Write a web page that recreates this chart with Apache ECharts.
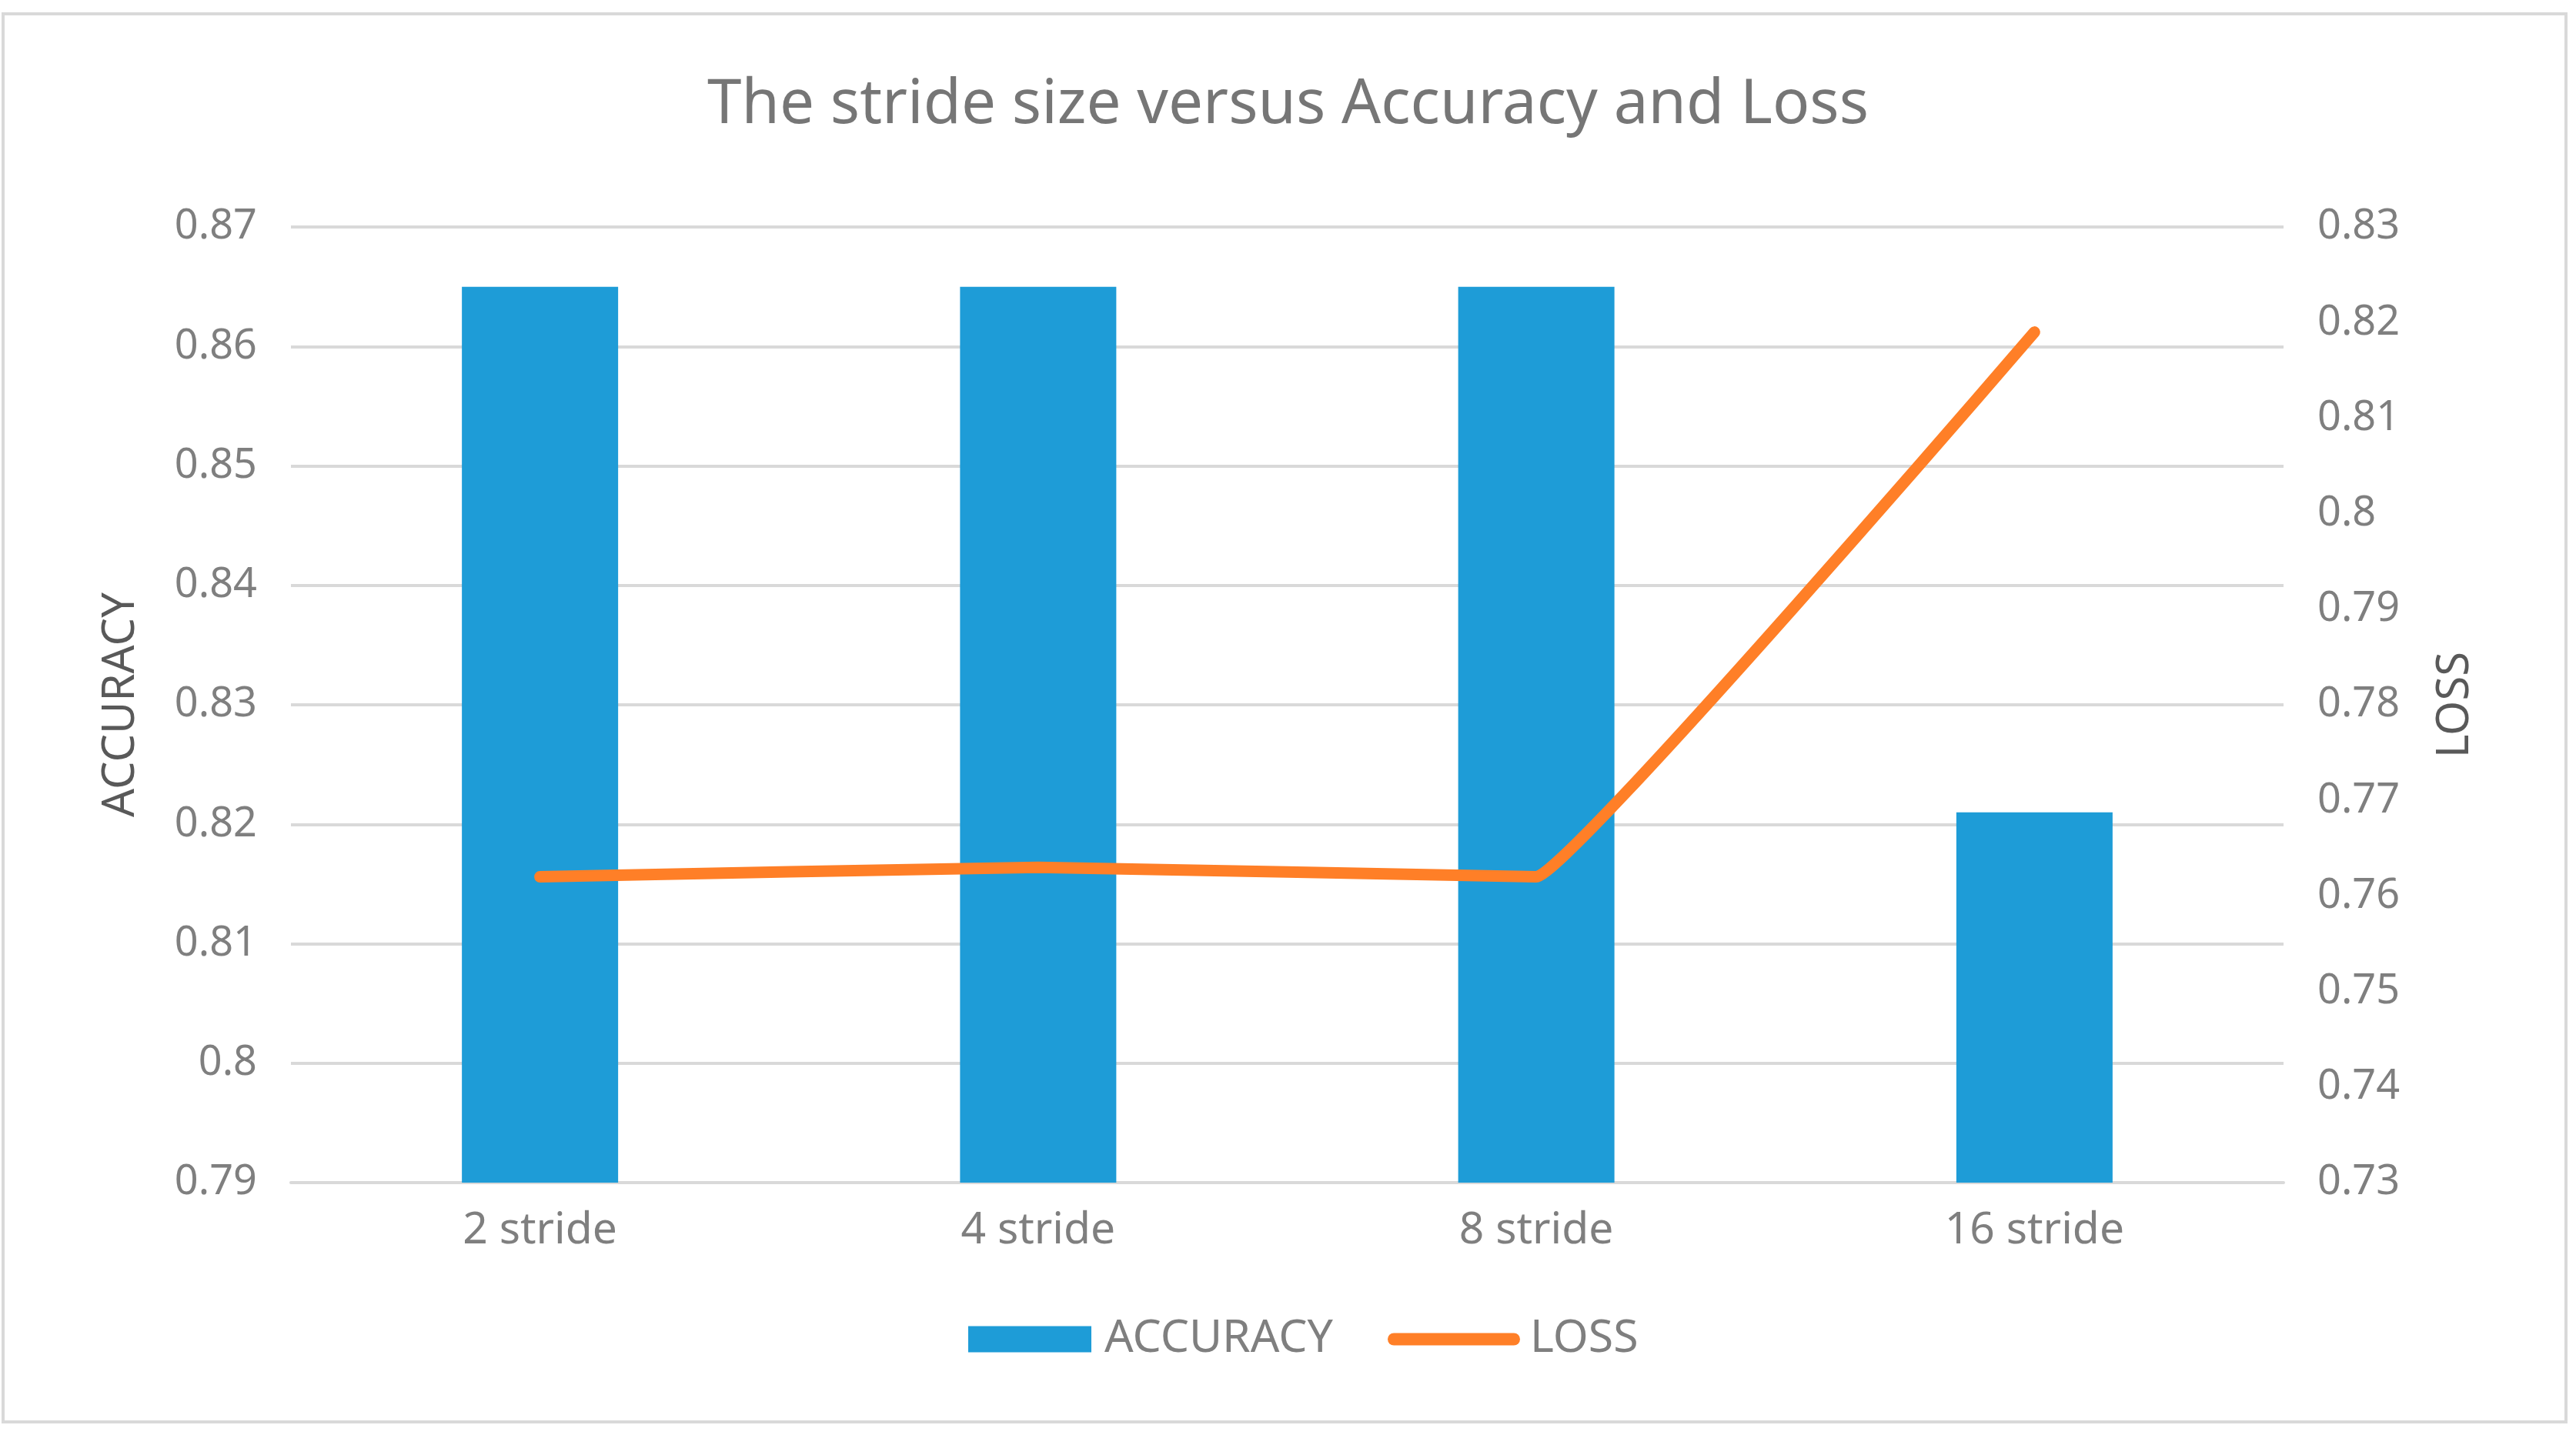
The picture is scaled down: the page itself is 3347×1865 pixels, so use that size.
<!DOCTYPE html>
<html><head><meta charset="utf-8">
<script src="https://cdn.jsdelivr.net/npm/echarts@6/dist/echarts.min.js"></script>
<style>html,body{margin:0;padding:0;background:#fff}#c{width:3347px;height:1865px}</style>
</head><body><div id="c"></div>
<script>
const categories = ['2 stride', '4 stride', '8 stride', '16 stride'];
const accuracy = [0.865, 0.865, 0.865, 0.821];
const loss = [0.762, 0.763, 0.762, 0.819];
const title = 'The stride size versus Accuracy and Loss';

const chart = echarts.init(document.getElementById('c'));
const font = '"Noto Sans", "Open Sans", sans-serif';
chart.setOption({
  backgroundColor: '#fff',
  animation: false,
  title: { text: title, left: 'center', top: 92,
    textStyle: { fontFamily: font, fontSize: 80, fontWeight: 'normal', color: '#767676' } },
  legend: [
    { left: 1253, top: 1706, itemWidth: 160, itemHeight: 34,
      textStyle: { fontFamily: font, fontSize: 59, color: '#7f7f7f', padding: [0, 0, 0, 12] },
      data: [{ name: 'ACCURACY', icon: 'rect' }] },
    { left: 1798, top: 1706, itemWidth: 172, itemHeight: 16,
      textStyle: { fontFamily: font, fontSize: 59, color: '#7f7f7f', padding: [0, 0, 0, 8] },
      data: [{ name: 'LOSS', icon: 'path://M8,0 H164 A8,8 0 0 1 164,16 H8 A8,8 0 0 1 8,0 Z' }] }
  ],
  grid: { left: 378, right: 380, top: 295, bottom: 328 },
  xAxis: { type: 'category', data: categories,
    axisLine: { show: true, lineStyle: { color: '#d9d9d9', width: 4 } },
    axisTick: { show: false },
    axisLabel: { fontFamily: font, fontSize: 57, color: '#7f7f7f', margin: 34 } },
  yAxis: [
    { type: 'value', min: 0.79, max: 0.87, interval: 0.01, name: 'ACCURACY',
      nameLocation: 'middle', nameGap: 192,
      nameTextStyle: { fontFamily: font, fontSize: 58, color: '#595959' },
      axisLine: { show: false }, axisTick: { show: false },
      axisLabel: { fontFamily: font, fontSize: 54, color: '#7f7f7f', margin: 44,
        formatter: v => String(+v.toFixed(2)) },
      splitLine: { lineStyle: { color: '#d9d9d9', width: 4 } } },
    { type: 'value', min: 0.73, max: 0.83, interval: 0.01, name: 'LOSS',
      nameLocation: 'middle', nameGap: 194, nameRotate: 90,
      nameTextStyle: { fontFamily: font, fontSize: 58, color: '#595959' },
      axisLine: { show: false }, axisTick: { show: false },
      axisLabel: { fontFamily: font, fontSize: 54, color: '#7f7f7f', margin: 44,
        formatter: v => String(+v.toFixed(2)) },
      splitLine: { show: false } }
  ],
  series: [
    { name: 'ACCURACY', type: 'bar', data: accuracy, barWidth: 203,
      itemStyle: { color: '#1e9cd7' } },
    { name: 'LOSS', type: 'line', yAxisIndex: 1, data: loss, smooth: 0.05,
      showSymbol: false, symbol: 'none',
      lineStyle: { color: '#ff7f27', width: 15, cap: 'round', join: 'round' },
      itemStyle: { color: '#ff7f27' } }
  ],
  graphic: [{ type: 'rect', shape: { x: 4, y: 18, width: 3330, height: 1830 },
    style: { fill: 'none', stroke: '#d9d9d9', lineWidth: 4 }, silent: true }]
});
</script></body></html>
